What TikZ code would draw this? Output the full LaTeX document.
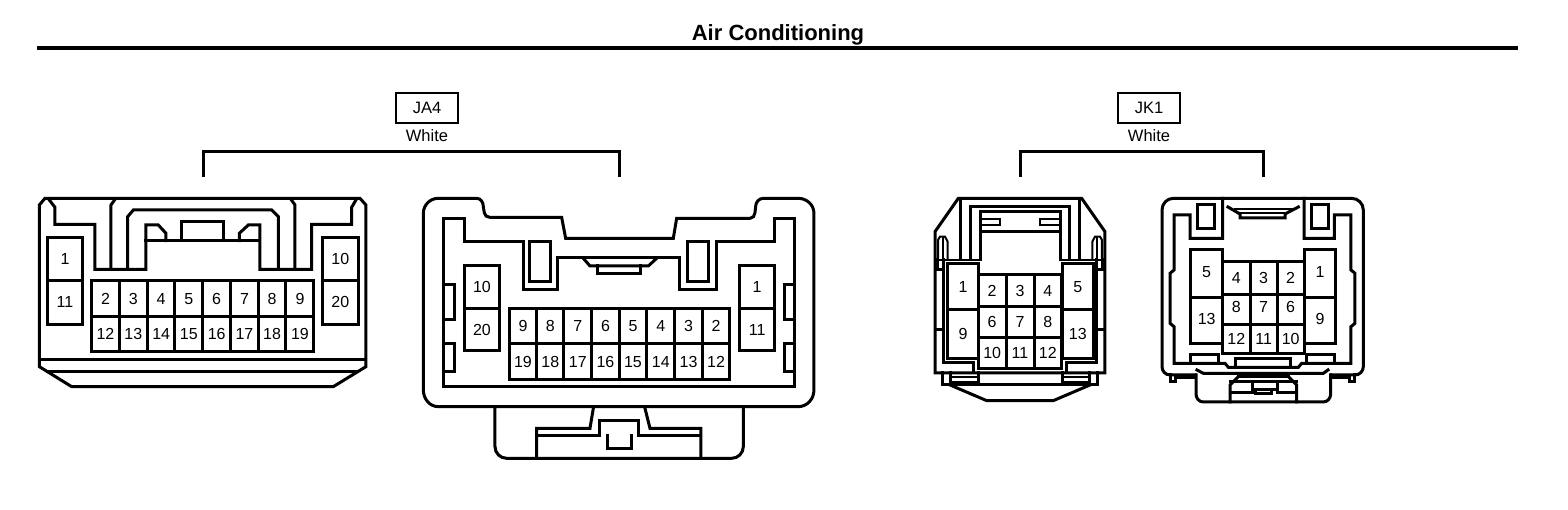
\documentclass[tikz,border=0pt]{standalone}
\usepackage{fontspec}
\setmainfont{Liberation Sans}
\tikzset{
	wire/.style={line width=3pt, line cap=rect},
	thin wire/.style={line width=2pt, line cap=rect},
	pin label/.style={font=\fontsize{16}{16}\selectfont, inner sep=0pt},
	caption label/.style={font=\fontsize{16.5}{17}\selectfont, inner sep=0pt},
	view/.style={shift={#1}, x=.3333pt, y=-.3333pt, wire}
}
\newcommand{\pin}[6][0]{\draw[wire] (#2,#3) rectangle (#4,#5);
	\node[pin label] (p#6) at ({(#2+#4)/2},{(#3+#5)/2+#1}) {#6};}
\begin{document}
\begin{tikzpicture}[x=1pt, y=-1pt]
	\useasboundingbox (0,0) rectangle (1568,510);
	\fill[white] (0,0) rectangle (1568,510);
	\node[font=\bfseries\fontsize{22}{22}\selectfont, inner sep=0pt] (title) at (778,35) {Air Conditioning};
	\draw[line width=4pt] (37,48) -- (1518,48);

	\node[draw, line width=2pt, caption label, minimum width=62pt, minimum height=30pt] (ja4) at (427,108) {JA4};
	\node[caption label] (ja4 color) at (427,136) {White};
	\draw[wire] (203,176) -- (203,152) -- (619,152) -- (619,176);
	\node[draw, line width=2pt, caption label, minimum width=62pt, minimum height=30pt] (jk1) at (1149,108) {JK1};
	\node[caption label] (jk1 color) at (1149,136) {White};
	\draw[wire] (1020,176) -- (1020,152) -- (1263,152) -- (1263,176);

	\begin{scope}[view={(30,190)}, name prefix=ja4 left ]
		\draw (28,45) -- (45,25) -- (990,25) -- (1008,45) -- (1008,530) -- (910,590) -- (125,590) -- (28,530) -- cycle;
		\draw (28,508) -- (1008,508);
		\draw (52,545) -- (984,545);
		\draw (58,30) -- (75,52) -- (75,103) -- (195,103) -- (195,238) -- (348,238) -- (348,105) -- (385,105) -- (408,130) -- (408,152);
		\draw (978,30) -- (965,52) -- (965,103) -- (845,103) -- (845,238) -- (690,238) -- (690,105) -- (655,105) -- (628,130) -- (628,152);
		\draw (348,152) -- (690,152);
		\draw (455,152) -- (455,95) -- (580,95) -- (580,152);
		\draw (255,28) -- (243,45) -- (243,238);
		\draw (783,28) -- (795,45) -- (795,238);
		\draw (293,238) -- (293,80) -- (310,60) -- (725,60) -- (745,80) -- (745,238);
		\pin{52}{142}{158}{272}{1}
		\pin{52}{272}{158}{403}{11}
		\pin{877}{142}{985}{272}{10}
		\pin{877}{272}{985}{403}{20}
		\foreach \xa/\xb/\m/\n in {185/268/2/12, 268/352/3/13, 352/435/4/14, 435/518/5/15, 518/602/6/16, 602/685/7/17, 685/768/8/18, 768/852/9/19}{
			\pin{\xa}{272}{\xb}{380}{\m}
			\pin{\xa}{380}{\xb}{485}{\n}
		}
	\end{scope}

	\begin{scope}[view={(415,190)}, name prefix=ja4 right ]
		\draw (70,25) -- (185,25) to[out=0, in=90] (205,50) -- (208,68) to[out=-90, in=180] (225,82) -- (440,82) -- (452,145) -- (775,145) -- (785,85) -- (1005,85) to[out=0, in=-90] (1020,68) -- (1022,50) to[out=90, in=180] (1045,25) -- (1150,25) to[out=0, in=90] (1197,70) -- (1197,600) to[out=-90, in=0] (1150,650) -- (70,650) to[out=180, in=-90] (25,600) -- (25,70) to[out=90, in=180] cycle;
		\draw (240,650) -- (240,770) to[out=-90, in=180] (275,805) -- (950,805) to[out=0, in=-90] (985,770) -- (985,650);
		\draw (365,805) -- (365,715) -- (525,715) -- (535,655);
		\draw (690,655) -- (705,715) -- (858,715) -- (858,805);
		\draw (365,738) -- (555,738);
		\draw (670,738) -- (858,738);
		\draw (555,738) -- (555,693) -- (670,693) -- (670,738);
		\draw (578,738) -- (578,775) -- (650,775) -- (650,738);
		\draw (85,590) -- (85,85) -- (148,85) -- (148,155) -- (325,155) -- (325,298) -- (428,298) -- (428,202) -- (795,202) -- (795,298) -- (905,298) -- (905,155) -- (1080,155) -- (1080,85) -- (1140,85) -- (1140,590) -- cycle;
		\draw (345,155) rectangle (408,275);
		\draw (817,155) rectangle (880,275);
		\draw (85,285) -- (118,285) -- (118,390) -- (85,390);
		\draw (85,460) -- (118,460) -- (118,545) -- (85,545);
		\draw (1140,285) -- (1108,285) -- (1108,390) -- (1140,390);
		\draw (1140,460) -- (1108,460) -- (1108,545) -- (1140,545);
		\draw (505,205) -- (525,228) -- (700,228) -- (725,205);
		\draw (547,228) -- (547,250) -- (678,250) -- (678,228);
		\pin{147}{227}{255}{355}{10}
		\pin{147}{355}{255}{483}{20}
		\pin{973}{227}{1080}{355}{1}
		\pin{973}{355}{1080}{483}{11}
		\foreach \xa/\xb/\m/\n in {283/365/9/19, 365/447/8/18, 447/530/7/17, 530/613/6/16, 613/695/5/15, 695/780/4/14, 780/862/3/13, 862/945/2/12}{
			\pin{\xa}{355}{\xb}{462}{\m}
			\pin{\xa}{462}{\xb}{570}{\n}
		}
	\end{scope}

	\begin{scope}[view={(925,190)}, name prefix=jk1 left ]
		\draw (30,549) -- (30,125) -- (100,25) -- (470,25) -- (540,125) -- (540,549) -- cycle;
		\draw (51,549) -- (51,585) -- (519,585) -- (519,549);
		\draw (75,585) -- (185,632) -- (385,632) -- (495,585);
		\draw (105,30) -- (105,210);
		\draw (135,210) -- (135,50) -- (435,50) -- (435,210);
		\draw (465,30) -- (465,210);
		\draw (165,210) -- (165,65) -- (405,65) -- (405,210);
		\draw[thin wire] (165,88) -- (225,88) -- (225,105) -- (165,105);
		\draw[thin wire] (405,88) -- (345,88) -- (345,105) -- (405,105);
		\draw (165,125) -- (405,125);
		\draw[thin wire] (36,210) -- (165,210);
		\draw[thin wire] (405,210) -- (534,210);
		\draw[thin wire] (39,210) -- (39,150) -- (45,140) -- (60,140) -- (68,155) -- (68,210);
		\draw[thin wire] (531,210) -- (531,150) -- (525,140) -- (510,140) -- (502,155) -- (502,210);
		\draw[thin wire] (54,145) -- (54,210);
		\draw[thin wire] (516,145) -- (516,210);
		\draw (36,210) -- (36,240) -- (54,240) -- (54,210);
		\draw (534,210) -- (534,240) -- (516,240) -- (516,210);
		\draw (30,420) -- (54,420) -- (54,519) -- (144,519) -- (144,549);
		\draw (54,420) -- (54,240);
		\draw (540,420) -- (516,420) -- (516,519) -- (426,519) -- (426,549);
		\draw (516,420) -- (516,240);
		\draw (159,549) -- (159,585);
		\draw (411,549) -- (411,585);
		\draw[thin wire] (75,561) -- (159,561);
		\draw[thin wire] (75,576) -- (159,576);
		\draw[thin wire] (411,561) -- (495,561);
		\draw[thin wire] (411,576) -- (495,576);
		\draw (75,549) -- (75,585);
		\draw (495,549) -- (495,585);
		\pin{68}{222}{160}{360}{1}
		\pin{68}{360}{160}{505}{9}
		\pin{412}{222}{505}{360}{5}
		\pin{412}{360}{505}{505}{13}
		\foreach \xa/\xb/\a/\b/\c in {160/243/2/6/10, 243/327/3/7/11, 327/410/4/8/12}{
			\pin{\xa}{255}{\xb}{350}{\a}
			\pin{\xa}{350}{\xb}{443}{\b}
			\pin{\xa}{443}{\xb}{537}{\c}
		}
	\end{scope}

	\begin{scope}[view={(1150,190)}, name prefix=jk1 right ]
		\draw (135,555) -- (60,555) to[out=180, in=-90] (36,530) -- (36,60) to[out=90, in=180] (70,25) -- (605,25) to[out=0, in=90] (640,60) -- (640,530) to[out=-90, in=0] (615,555) -- (545,555);
		\draw (60,555) -- (60,576) -- (75,576) -- (75,564) -- (135,564);
		\draw (615,555) -- (615,576) -- (600,576) -- (600,564) -- (545,564);
		\draw (138,555) -- (138,612) to[out=-90, in=180] (160,636) -- (520,636) to[out=0, in=-90] (542,612) -- (542,555);
		\draw (141,540) -- (160,550) -- (520,550) -- (534,540);
		\draw (218,25) -- (218,145) -- (120,145) -- (120,75) -- (72,75) -- (72,240) -- (60,250) -- (60,400) -- (72,410) -- (72,520) -- (225,520) -- (235,532) -- (445,532) -- (455,520) -- (603,520) -- (603,410) -- (615,400) -- (615,250) -- (603,240) -- (603,75) -- (553,75) -- (553,145) -- (462,145) -- (462,25);
		\draw (141,45) rectangle (192,117);
		\draw (485,45) rectangle (536,117);
		\draw (234,51) -- (270,72) -- (270,84) -- (405,84) -- (405,72) -- (445,51);
		\draw[thin wire] (255,57) -- (425,57);
		\draw[thin wire] (270,70) -- (405,70);
		\draw (120,515) -- (120,495) -- (205,495) -- (205,515);
		\draw (470,515) -- (470,495) -- (555,495) -- (555,515);
		\draw (255,530) -- (255,505) -- (420,505) -- (420,530);
		\draw (264,561) -- (416,561);
		\draw (240,636) -- (240,585) -- (264,561);
		\draw (440,636) -- (440,585) -- (416,561);
		\draw (240,576) -- (440,576);
		\draw (240,609) -- (306,609) -- (306,576);
		\draw (440,609) -- (381,609) -- (381,576);
		\draw (306,600) -- (381,600);
		\draw (315,600) -- (315,612) -- (363,612) -- (363,600);
		\pin[-6]{122}{180}{218}{322}{5}
		\pin[-5]{122}{322}{218}{462}{13}
		\pin[-6]{462}{180}{558}{322}{1}
		\pin[-5]{462}{322}{558}{462}{9}
		\foreach \xa/\xb/\a/\b/\c in {218/300/4/8/12, 300/382/3/7/11, 382/462/2/6/10}{
			\pin{\xa}{215}{\xb}{315}{\a}
			\pin[-10]{\xa}{315}{\xb}{405}{\b}
			\pin{\xa}{405}{\xb}{490}{\c}
		}
	\end{scope}
\end{tikzpicture}
\end{document}
